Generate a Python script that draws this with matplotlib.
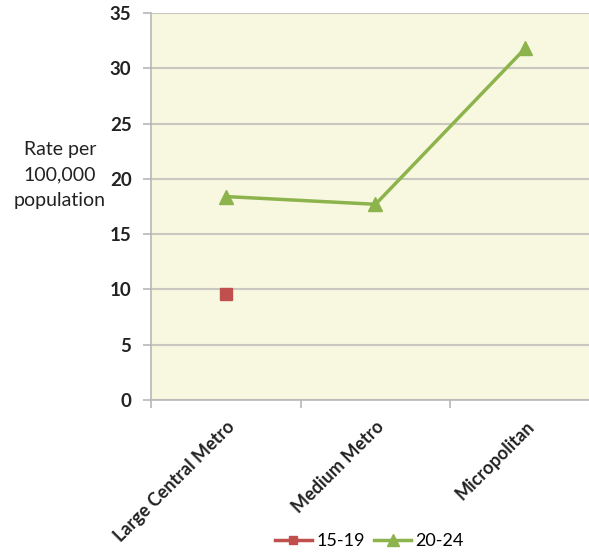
import matplotlib.pyplot as plt
import numpy as np

categories = ['Large Central Metro', 'Medium Metro', 'Micropolitan']
rate_15_19 = [9.6, np.nan, np.nan]
rate_20_24 = [18.4, 17.7, 31.8]
yticks = [0, 5, 10, 15, 20, 25, 30, 35]

plt.rcParams['font.family'] = ['Lato', 'DejaVu Sans']

fig = plt.figure(figsize=(5.89, 5.52), dpi=100)
ax = fig.add_axes([151 / 589, 152 / 552, 449 / 589, 387 / 552])
ax.set_facecolor('#f8f8e0')

x = np.arange(len(categories)) + 0.5
ax.plot(x, rate_15_19, color='#c0504d', marker='s', markersize=8, lw=2.5, label='15-19')
ax.plot(x, rate_20_24, color='#8db44c', marker='^', markersize=10, lw=2.5, label='20-24')

ax.set_xlim(0, 3)
ax.set_ylim(0, 35)
ax.set_yticks(yticks)
ax.set_xticks([0, 1, 2, 3])
ax.set_xticklabels([])
ax.set_xticks(x, minor=True)
ax.set_xticklabels(categories, minor=True, rotation=45, ha='right', va='top',
                   rotation_mode='anchor', fontsize=13, fontweight='bold', color='#222222')
ax.tick_params(axis='x', which='minor', length=0, pad=13)
ax.tick_params(axis='x', which='major', length=6, color='#b8b8b8', width=1.2)
ax.tick_params(axis='y', length=6, color='#b8b8b8', width=1.2, labelsize=13.5, pad=8)
for lbl in ax.get_yticklabels():
    lbl.set_fontweight('bold')
    lbl.set_color('#222222')

ax.yaxis.grid(True, color='#c8c8c0', lw=1.5)
ax.set_axisbelow(True)
for side in ['top', 'right']:
    ax.spines[side].set_visible(False)
for side in ['left', 'bottom']:
    ax.spines[side].set_color('#b8b8b8')
    ax.spines[side].set_linewidth(1.2)

fig.text(60 / 589, 1 - 175 / 552, 'Rate per\n100,000\npopulation', ha='center', va='center',
         fontsize=14, color='#222222', linespacing=1.6)

fig.legend(loc='center', bbox_to_anchor=(369 / 589, 1 - 541 / 552), ncol=2, frameon=False,
           fontsize=13, handlelength=2.1, columnspacing=0.5, handletextpad=0.2,
           markerscale=0.8)

fig.savefig('out.png', dpi=100)
